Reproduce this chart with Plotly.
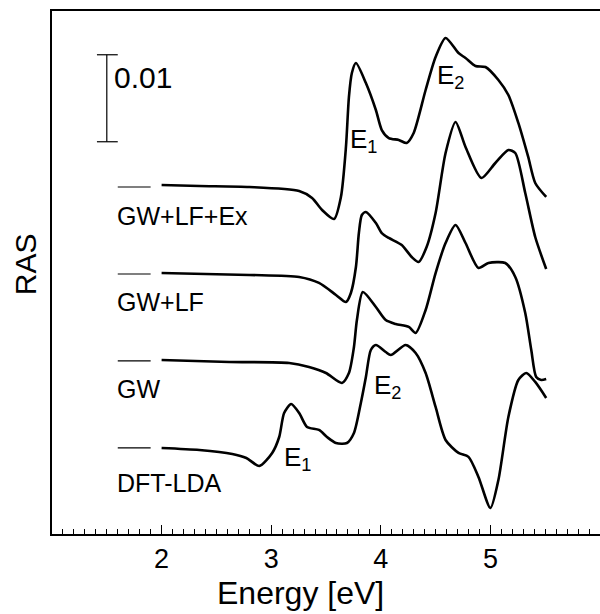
import plotly.graph_objects as go

# Energies (eV) and RAS values (units of 1e-3) relative to each spectrum's zero line
labels = ["GW+LF+Ex", "GW+LF", "GW", "DFT-LDA"]
offsets_milli = [30, 20, 10, 0]

e_gwlfex = [2.00, 2.345, 2.80, 3.255, 3.373, 3.464, 3.573, 3.636, 3.682, 3.709, 3.736, 3.773,
            3.864, 3.955, 4.009, 4.073, 4.164, 4.236, 4.300, 4.409, 4.500, 4.591, 4.709, 4.773,
            4.864, 4.955, 5.073, 5.164, 5.255, 5.345, 5.409, 5.509]
r_gwlfex = [0.23, 0.11, 0.0, -0.46, -1.26, -2.64, -3.68, -1.15, 4.60, 10.34, 13.10, 14.25,
            11.95, 8.85, 6.55, 5.63, 5.40, 5.06, 6.21, 11.15, 14.94, 17.13, 15.40, 14.83,
            13.91, 13.79, 12.30, 10.57, 7.36, 3.45, 0.46, -1.15]

e_gwlf = [2.00, 2.80, 3.255, 3.436, 3.591, 3.682, 3.727, 3.773, 3.800, 3.827, 3.864, 3.955,
          4.009, 4.073, 4.191, 4.282, 4.345, 4.418, 4.500, 4.591, 4.682, 4.773, 4.918, 5.045,
          5.164, 5.227, 5.318, 5.409, 5.509]
r_gwlf = [0.11, -0.11, -0.34, -1.03, -2.41, -3.22, -2.18, 0.80, 4.71, 6.78, 7.13, 5.86,
          4.71, 4.14, 3.33, 1.95, 1.38, 3.10, 7.01, 13.91, 17.47, 14.60, 11.03, 12.76,
          14.25, 13.91, 9.31, 4.25, 0.57]

e_gw = [2.00, 2.618, 3.164, 3.345, 3.50, 3.645, 3.709, 3.755, 3.782, 3.836, 3.955, 4.045,
        4.136, 4.255, 4.318, 4.409, 4.50, 4.591, 4.682, 4.773, 4.891, 4.982, 5.136, 5.227,
        5.318, 5.373, 5.418, 5.464, 5.509]
r_gw = [0.11, -0.11, -0.23, -0.69, -1.38, -2.53, -1.38, 1.61, 4.71, 7.93, 6.21, 4.71,
        4.25, 3.91, 3.22, 5.86, 10.11, 13.56, 15.63, 13.56, 10.69, 11.26, 11.26, 9.66,
        5.52, 1.26, -1.84, -2.18, -2.07]

e_lda = [2.00, 2.345, 2.645, 2.773, 2.891, 3.009, 3.073, 3.118, 3.182, 3.255, 3.327, 3.436,
         3.509, 3.591, 3.691, 3.755, 3.818, 3.864, 3.909, 3.955, 4.045, 4.091, 4.227, 4.318,
         4.409, 4.50, 4.591, 4.709, 4.80, 4.891, 5.00, 5.073, 5.164, 5.255, 5.327, 5.409, 5.509]
r_lda = [0.0, -0.23, -0.69, -1.15, -2.07, -0.57, 1.26, 4.02, 5.06, 4.02, 2.41, 2.07,
         1.26, 0.57, 0.57, 1.72, 5.17, 8.16, 11.26, 11.84, 11.03, 10.69, 11.84, 10.92,
         8.62, 4.71, 0.92, -0.57, -1.03, -3.33, -6.90, -3.68, 3.56, 7.82, 8.62, 7.59, 5.75]

energies = [e_gwlfex, e_gwlf, e_gw, e_lda]
values = [r_gwlfex, r_gwlf, r_gw, r_lda]

zero_mark_e = [1.6, 1.9]
scale_bar = 0.01
scale_bar_bottom = 0.0352

FONT = "Arial, Liberation Sans, sans-serif"
label_drop = [0.0033, 0.0032, 0.0032, 0.0040]

fig = go.Figure()

for lab, off, ex, rv, dr in zip(labels, offsets_milli, energies, values, label_drop):
    ys = [(v + off) * 1e-3 for v in rv]
    fig.add_trace(go.Scatter(x=ex, y=ys, mode="lines", line=dict(color="black", width=2.6,
                             shape="spline", smoothing=0.7), showlegend=False, hoverinfo="skip"))
    fig.add_trace(go.Scatter(x=zero_mark_e, y=[off * 1e-3] * 2, mode="lines",
                             line=dict(color="black", width=1.2), showlegend=False, hoverinfo="skip"))
    fig.add_annotation(x=1.6, y=off * 1e-3 - dr, text=lab, showarrow=False, xanchor="left",
                       yanchor="middle", xshift=-3, font=dict(family=FONT, size=25, color="black"))

# scale bar
sb_x = 1.5
fig.add_shape(type="line", x0=sb_x, x1=sb_x, y0=scale_bar_bottom, y1=scale_bar_bottom + scale_bar,
              line=dict(color="black", width=1.2))
for yy in [scale_bar_bottom, scale_bar_bottom + scale_bar]:
    fig.add_shape(type="line", x0=sb_x - 0.09, x1=sb_x + 0.1, y0=yy, y1=yy,
                  line=dict(color="black", width=1.2))
fig.add_annotation(x=1.55, y=scale_bar_bottom + 0.0074, text=str(scale_bar), showarrow=False,
                   xanchor="left", yanchor="middle", font=dict(family=FONT, size=30, color="black"))

# peak labels
peak_labels = [
    (3.845, 0.0354, "E<sub>1</sub>"),
    (4.64, 0.0427, "E<sub>2</sub>"),
    (3.24, -0.0012, "E<sub>1</sub>"),
    (4.06, 0.0071, "E<sub>2</sub>"),
]
for px, py, t in peak_labels:
    fig.add_annotation(x=px, y=py, text=t, showarrow=False, xanchor="center", yanchor="middle",
                       font=dict(family=FONT, size=26, color="black"))

# axis titles
fig.add_annotation(xref="paper", yref="paper", x=0.4526, y=-0.113, text="Energy [eV]",
                   showarrow=False, xanchor="center", yanchor="middle",
                   font=dict(family=FONT, size=32, color="black"))
fig.add_annotation(xref="paper", yref="paper", x=-0.049, y=0.516, text="RAS", textangle=-90,
                   showarrow=False, xanchor="center", yanchor="middle",
                   font=dict(family=FONT, size=30, color="black"))

fig.update_layout(
    width=600, height=614,
    margin=dict(l=52, r=0, t=11, b=80),
    paper_bgcolor="white", plot_bgcolor="white",
    font=dict(family=FONT, color="black"),
    xaxis=dict(range=[1, 6], showline=True, linecolor="black", linewidth=2, mirror=True,
               automargin=False,
               tickmode="array", tickvals=[2, 3, 4, 5], ticktext=["2", "3", "4", "5"],
               ticks="inside", ticklen=9, tickwidth=1.2, tickcolor="black",
               minor=dict(tickmode="linear", tick0=1, dtick=0.1, ticks="inside", ticklen=5,
                          tickwidth=1, tickcolor="black"),
               showgrid=False, zeroline=False, tickfont=dict(size=27, family=FONT)),
    yaxis=dict(range=[-0.00989, 0.05023], showline=True, linecolor="black", linewidth=2,
               automargin=False,
               showticklabels=False, ticks="", showgrid=False, zeroline=False),
)

fig.write_html("out.html", config={"displayModeBar": False},
               post_script="document.body.style.margin='0';document.body.style.padding='0';")
